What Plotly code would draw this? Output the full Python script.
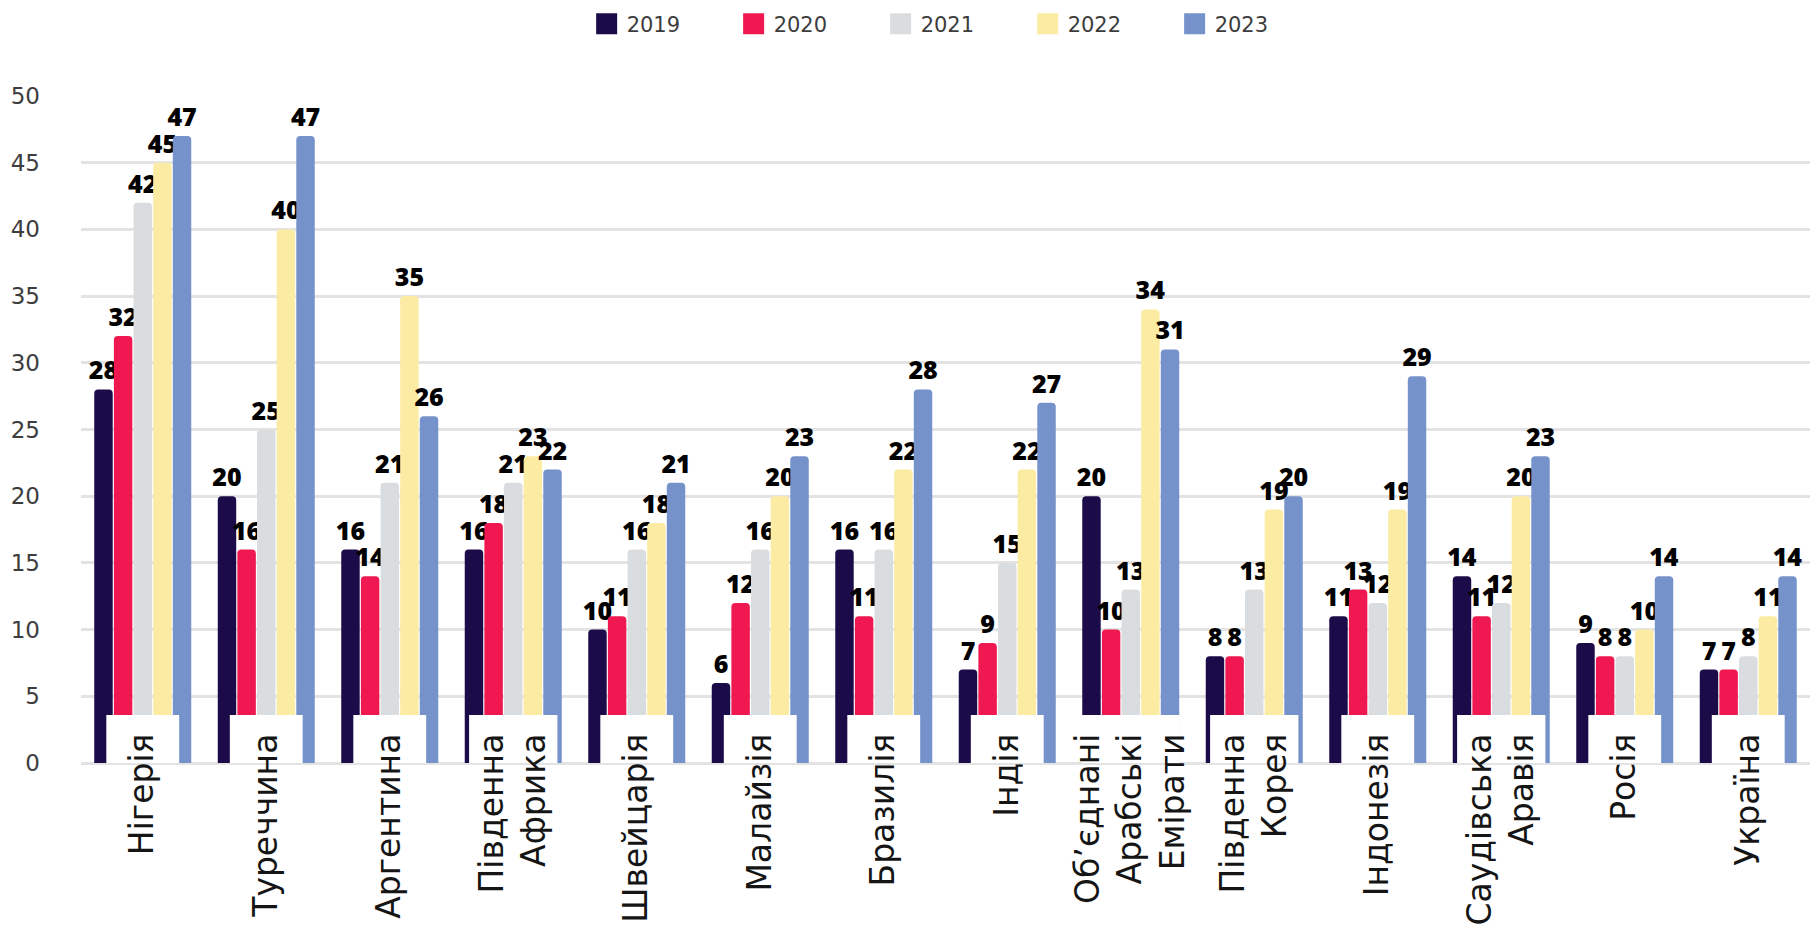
import plotly.graph_objects as go

# ---------------- data ----------------
countries = [
    "Нігерія", "Туреччина", "Аргентина", "Південна<br>Африка", "Швейцарія",
    "Малайзія", "Бразилія", "Індія", "Об’єднані<br>Арабські<br>Емірати",
    "Південна<br>Корея", "Індонезія", "Саудівська<br>Аравія", "Росія", "Україна",
]
years = ["2019", "2020", "2021", "2022", "2023"]
v2019 = [28, 20, 16, 16, 10, 6, 16, 7, 20, 8, 11, 14, 9, 7]
v2020 = [32, 16, 14, 18, 11, 12, 11, 9, 10, 8, 13, 11, 8, 7]
v2021 = [42, 25, 21, 21, 16, 16, 16, 15, 13, 13, 12, 12, 8, 8]
v2022 = [45, 40, 35, 23, 18, 20, 22, 22, 34, 19, 19, 20, 10, 11]
v2023 = [47, 47, 26, 22, 21, 23, 28, 27, 31, 20, 29, 23, 14, 14]
y_ticks = [0, 5, 10, 15, 20, 25, 30, 35, 40, 45, 50]

series = [v2019, v2020, v2021, v2022, v2023]

# ---------------- style ----------------
colors = ["#1c0b49", "#ef1850", "#dadddf", "#fbeba3", "#7592cb"]
LABEL_FONT = "DejaVu Sans"
NUM_FONT = "Open Sans"
BOX_H = 3.6                       # height of the white label tabs (axis units)
BOX_W = {1: 0.59, 2: 0.715, 3: 0.795}

fig = go.Figure()

for yr, vals, col in zip(years, series, colors):
    fig.add_trace(go.Bar(
        x=countries, y=vals, name=yr,
        marker=dict(color=col, cornerradius=4, line=dict(width=0)),
        text=vals, textposition="outside", constraintext="none",
        textfont=dict(family=NUM_FONT, size=25, color="#000000", weight=800),
        cliponaxis=False, showlegend=False,
        alignmentgroup="years", offsetgroup=yr,
        hovertemplate="%{x}<br>" + yr + ": %{y}<extra></extra>",
    ))

# white rounded tabs behind the country labels
fig.add_trace(go.Bar(
    x=countries, y=[BOX_H] * len(countries),
    width=[BOX_W[c.count("<br>") + 1] for c in countries],
    marker=dict(color="#ffffff", cornerradius=10, line=dict(width=0)),
    alignmentgroup="box", offsetgroup="box",
    showlegend=False, hoverinfo="skip",
))

# legend entries
for yr, col in zip(years, colors):
    fig.add_trace(go.Scatter(
        x=[None], y=[None], mode="markers", name=yr,
        marker=dict(symbol="square", size=16, color=col,
                    line=dict(color=col, width=5)),
    ))

# the page adds an 8px body margin, so the figure is 8px smaller than the window
fig.update_layout(
    width=1811, height=941,
    margin=dict(l=73, r=9, t=88, b=186, autoexpand=False),
    paper_bgcolor="#ffffff", plot_bgcolor="#ffffff",
    barmode="group", bargap=0.205, bargroupgap=0.06,
    font=dict(family=LABEL_FONT, color="#3d3d3d"),
    legend=dict(
        orientation="h", x=0.505, xanchor="center",
        yref="container", y=0.983, yanchor="middle",
        font=dict(family=LABEL_FONT, size=21, color="#3d3d3d"),
        entrywidth=102, entrywidthmode="pixels",
        bgcolor="rgba(0,0,0,0)",
    ),
    showlegend=True,
)

fig.update_xaxes(
    type="category", tickangle=-90, showgrid=False, zeroline=False,
    showline=False, ticks="", automargin=False,
    tickfont=dict(family=LABEL_FONT, size=33, color="#151515"),
    ticklabelstandoff=-37,
)
fig.update_yaxes(
    range=[0, 50], tickvals=y_ticks, showline=False, ticks="",
    automargin=False,
    gridcolor="#e3e3e3", gridwidth=2.5,
    zeroline=True, zerolinecolor="#e3e3e3", zerolinewidth=2.5,
    tickfont=dict(family=LABEL_FONT, size=23, color="#3d3d3d"),
    ticklabelstandoff=40,
)

fig.write_html("out.html")
